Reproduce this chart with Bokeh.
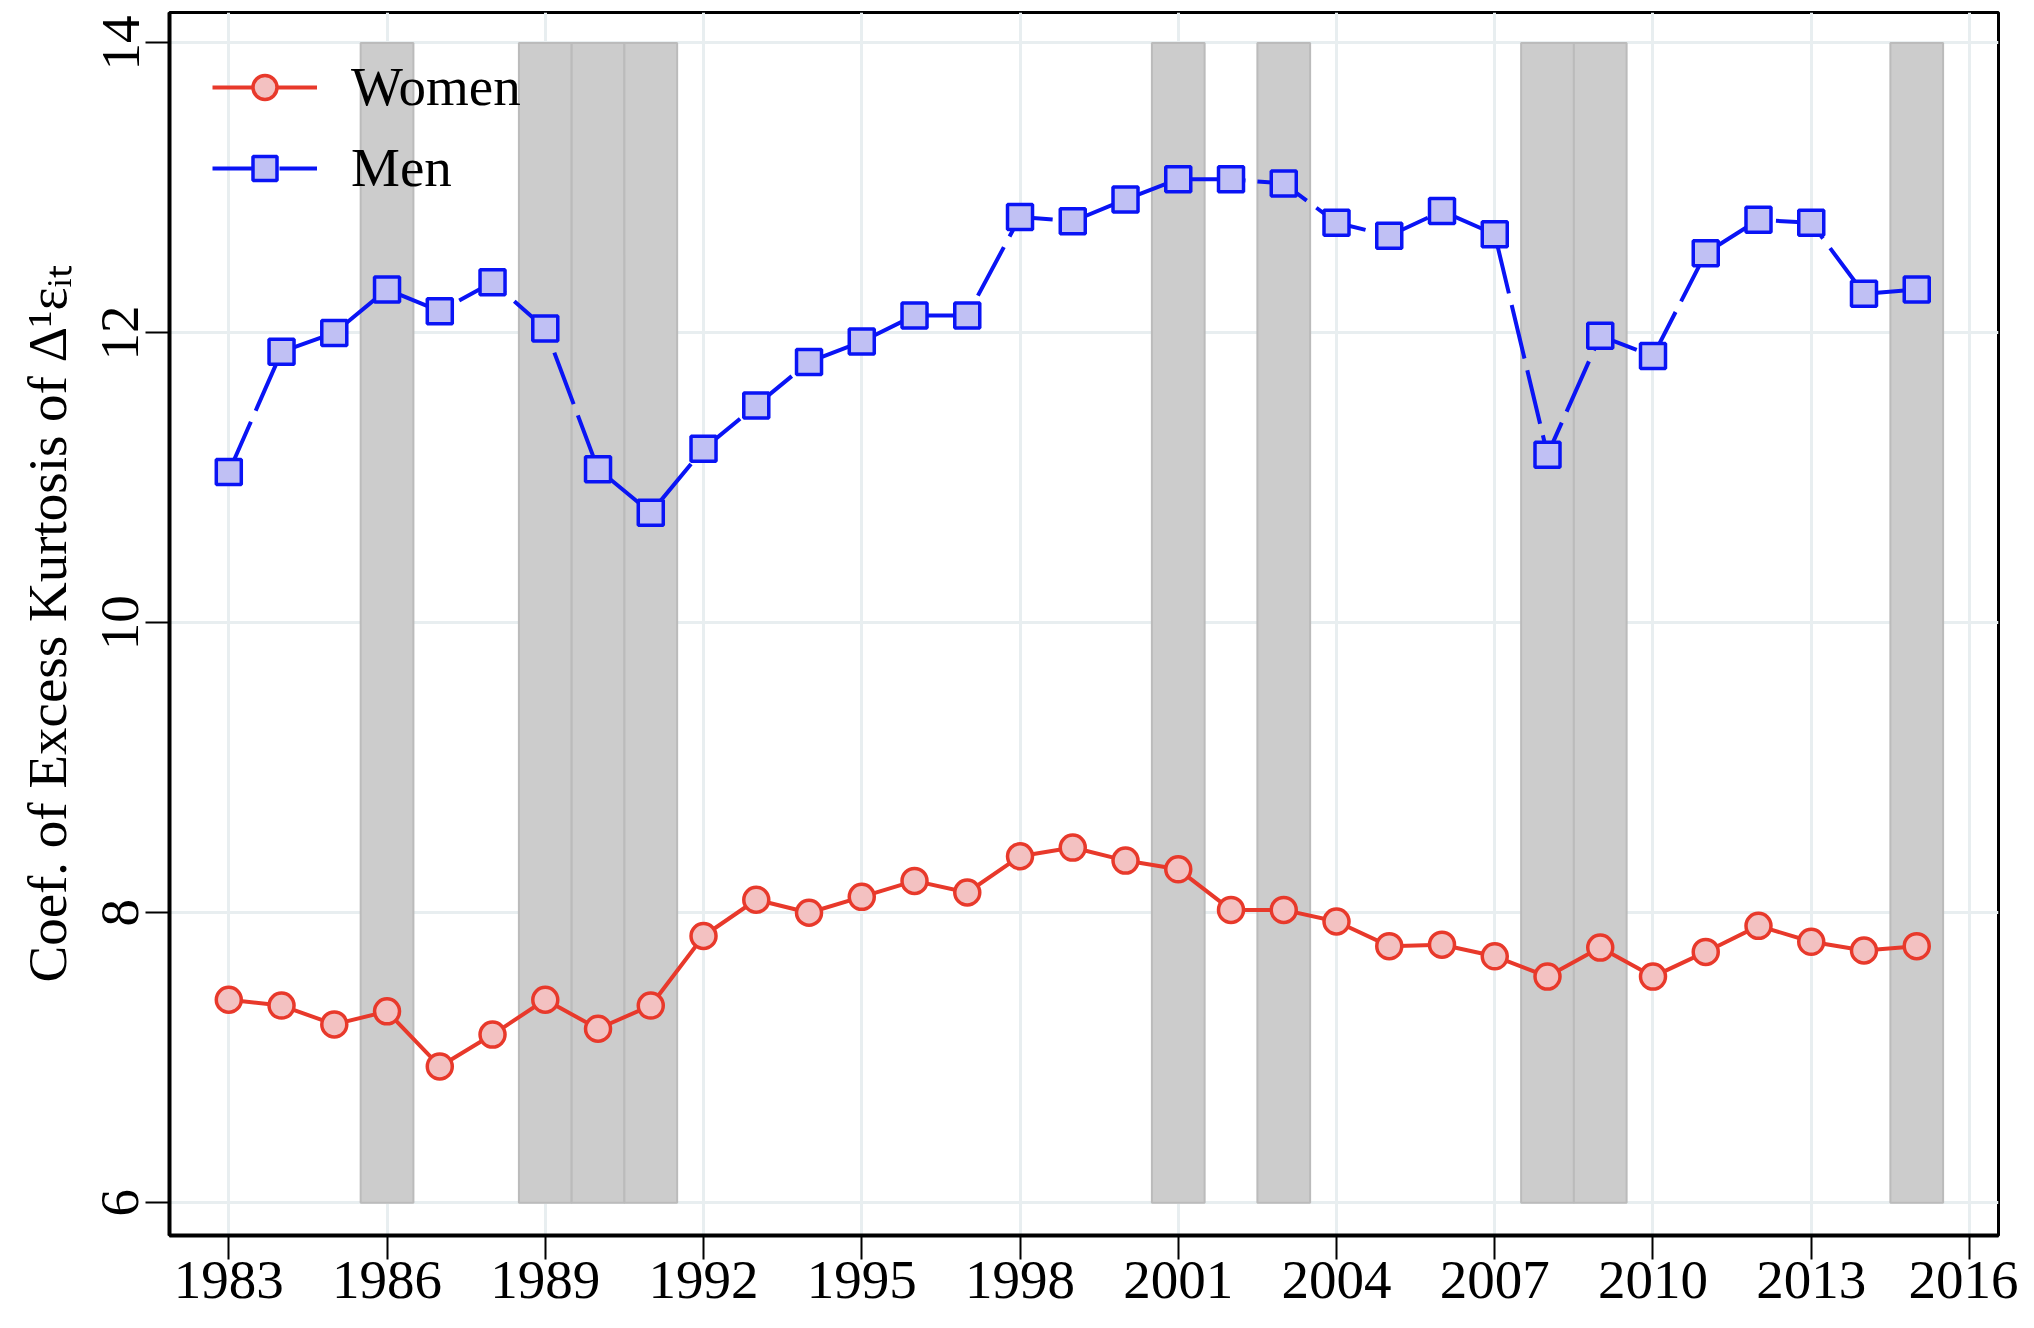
from bokeh.plotting import figure
from bokeh.models import Range1d, FixedTicker, Legend, LegendItem
from bokeh.embed import file_html
from bokeh.resources import INLINE

years = list(range(1983, 2016))
women = [7.40, 7.36, 7.23, 7.32, 6.94, 7.16, 7.40, 7.20, 7.36, 7.84, 8.09, 8.00, 8.11,
         8.22, 8.14, 8.39, 8.45, 8.36, 8.30, 8.02, 8.02, 7.94, 7.77, 7.78, 7.70, 7.56,
         7.76, 7.56, 7.73, 7.91, 7.80, 7.74, 7.77]
men = [11.04, 11.87, 12.00, 12.30, 12.15, 12.35, 12.03, 11.06, 10.76, 11.20, 11.50, 11.80,
       11.94, 12.12, 12.12, 12.80, 12.77, 12.92, 13.06, 13.06, 13.03, 12.76, 12.67, 12.84,
       12.68, 11.16, 11.98, 11.84, 12.55, 12.78, 12.76, 12.27, 12.30]
recession_years = [1986, 1989, 1990, 1991, 2001, 2003, 2008, 2009, 2015]
x_ticks = list(range(1983, 2017, 3))
y_ticks = [6, 8, 10, 12, 14]

RED = "#e8392b"
PINK = "#f3c1c1"
BLUE = "#0a14f5"
LAV = "#c0c0f4"
FONT = "Liberation Serif"

p = figure(width=2018, height=1320, output_backend="svg", toolbar_location=None,
           x_range=Range1d(1981.876, 2016.55), y_range=Range1d(5.774, 14.21),
           min_border_left=169, min_border_right=20, min_border_top=12, min_border_bottom=85)

p.vbar(x=recession_years, width=1, bottom=6, top=14, fill_color="#cccccc",
       line_color="#bbbbbb", line_width=2)

w_line = p.line(years, women, line_color=RED, line_width=4)
w_pts = p.scatter(years, women, marker="circle", size=25, fill_color=PINK,
                  line_color=RED, line_width=3.5)
m_line = p.line(years, men, line_color=BLUE, line_width=4, line_dash="55 12")
m_pts = p.scatter(years, men, marker="square", size=25, fill_color=LAV,
                  line_color=BLUE, line_width=3.5)

legend = Legend(items=[LegendItem(label="Women", renderers=[w_line, w_pts]),
                       LegendItem(label="Men", renderers=[m_line, m_pts])],
                location="top_left", border_line_color=None, background_fill_alpha=0,
                label_text_font=FONT, label_text_font_size="55px", label_text_color="black",
                glyph_width=105, glyph_height=60, label_height=60, spacing=18,
                padding=0, margin=43, label_standoff=34)
p.add_layout(legend)

p.xgrid.ticker = FixedTicker(ticks=x_ticks)
p.ygrid.ticker = FixedTicker(ticks=y_ticks)
p.grid.grid_line_color = "#e8eef0"
p.grid.grid_line_width = 3

p.xaxis.ticker = FixedTicker(ticks=x_ticks)
p.yaxis.ticker = FixedTicker(ticks=y_ticks)
for ax in (p.xaxis, p.yaxis):
    ax.axis_line_color = "black"
    ax.axis_line_width = 4
    ax.major_tick_line_color = "black"
    ax.major_tick_line_width = 2
    ax.major_tick_out = 24
    ax.major_tick_in = 0
    ax.minor_tick_line_color = None
    ax.major_label_text_font = FONT
    ax.major_label_text_font_size = "55px"
    ax.major_label_text_color = "black"
    ax.axis_label_text_font = FONT
    ax.axis_label_text_font_size = "55px"
    ax.axis_label_text_font_style = "normal"
    ax.axis_label_text_color = "black"

p.xaxis.major_label_standoff = 2
p.yaxis.major_label_standoff = 7
p.yaxis.major_label_orientation = "vertical"
p.yaxis.axis_label = "Coef. of Excess Kurtosis of Δ¹εᵢₜ"
p.yaxis.axis_label_standoff = 22

p.outline_line_color = "black"
p.outline_line_width = 3
p.outline_line_alpha = 1
p.background_fill_color = "white"
p.border_fill_color = "white"

open("out.html", "w").write(file_html(p, INLINE))
